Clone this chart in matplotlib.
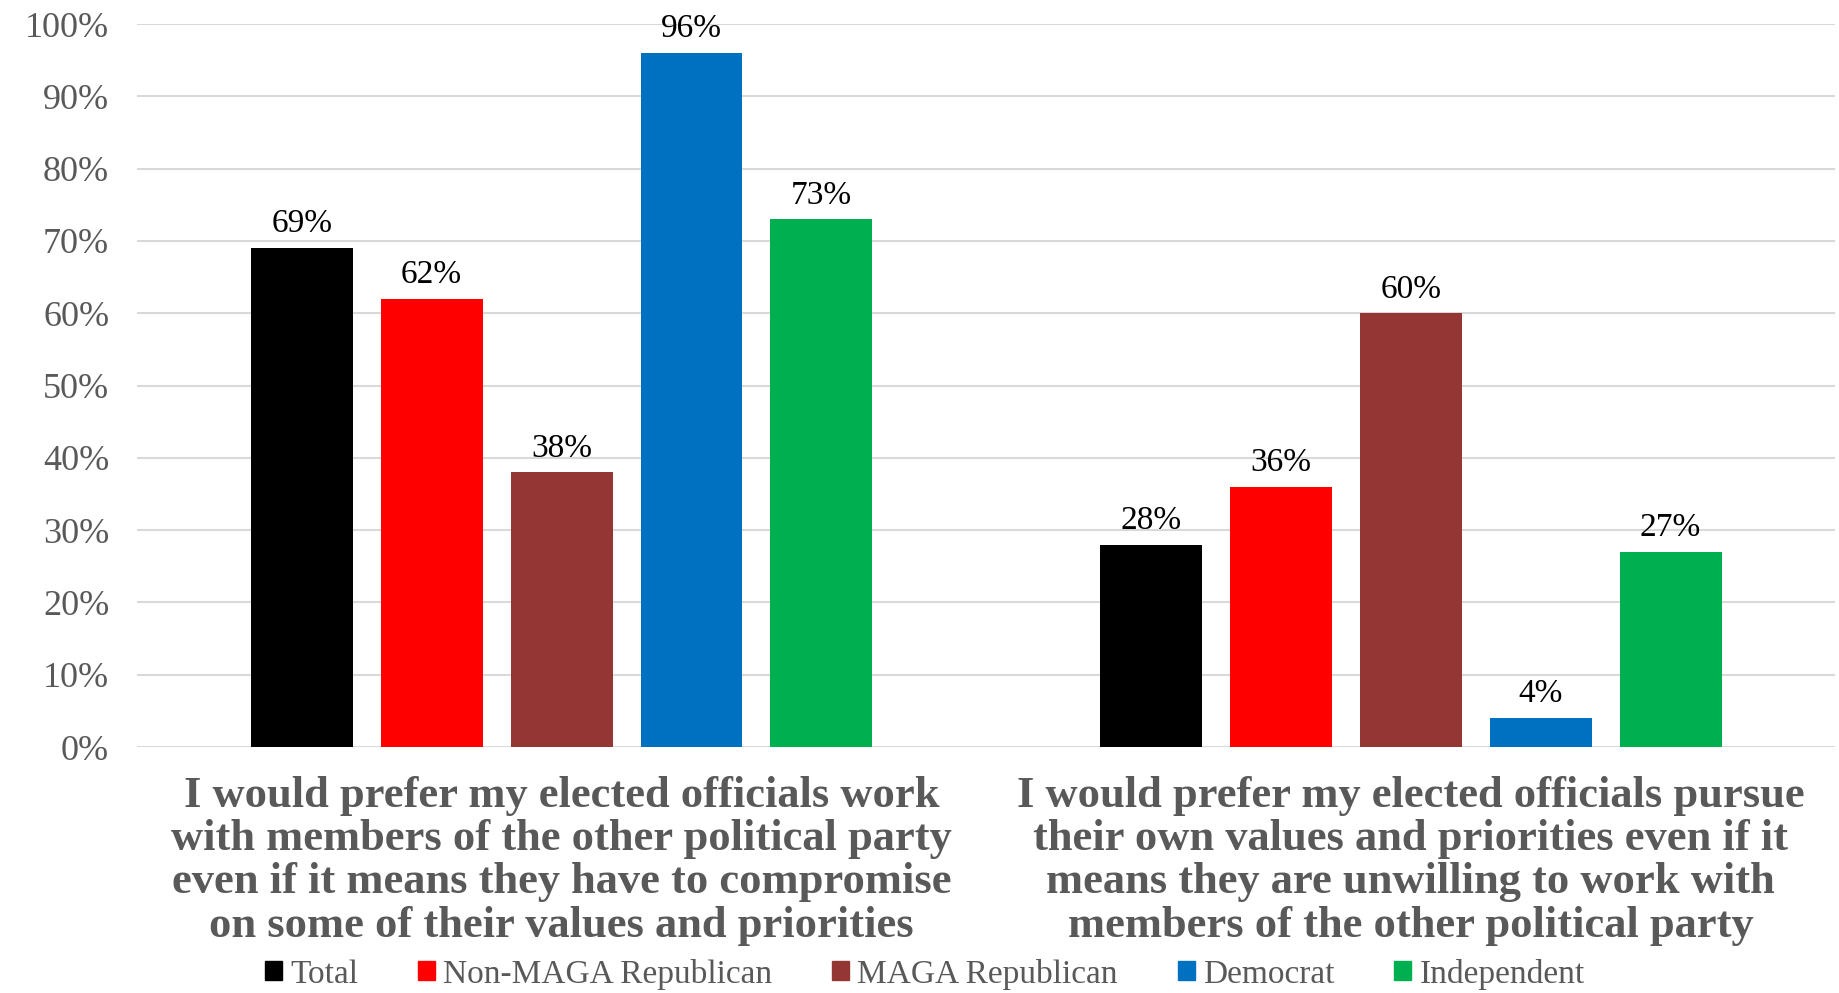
import matplotlib
matplotlib.use("Agg")
import matplotlib.pyplot as plt
import numpy as np

categories = [
    "I would prefer my elected officials work\nwith members of the other political party\neven if it means they have to compromise\non some of their values and priorities",
    "I would prefer my elected officials pursue\ntheir own values and priorities even if it\nmeans they are unwilling to work with\nmembers of the other political party",
]
series_names = ["Total", "Non-MAGA Republican", "MAGA Republican", "Democrat", "Independent"]
series_values = [
    [69, 28],
    [62, 36],
    [38, 60],
    [96, 4],
    [73, 27],
]
colors = ["#000000", "#FF0000", "#943634", "#0070C0", "#00B050"]
yticks = [0, 10, 20, 30, 40, 50, 60, 70, 80, 90, 100]

serif = ["Liberation Serif", "DejaVu Serif"]
plt.rcParams["font.family"] = serif

fig = plt.figure(figsize=(18.39, 9.93), dpi=100)
ax = fig.add_axes([0.0745, 0.2477, 0.9235, 0.7281])

x = np.arange(len(categories))
pitch = 0.153
width = 0.12
for i, (name, vals, c) in enumerate(zip(series_names, series_values, colors)):
    pos = x + (i - 2) * pitch
    bars = ax.bar(pos, vals, width, color=c, label=name, zorder=3)
    for b, v in zip(bars, vals):
        ax.text(b.get_x() + b.get_width() / 2, v + 1.2, f"{v}%", ha="center", va="bottom",
                fontsize=24, color="black")

ax.set_xlim(-0.5, 1.5)
ax.set_ylim(0, 100)
ax.set_yticks(yticks)
ax.set_yticklabels([f"{t}%" for t in yticks], fontsize=26, color="#595959")
ax.yaxis.grid(True, color="#D9D9D9", linewidth=1.5, zorder=0)
ax.set_axisbelow(True)
for s in ax.spines.values():
    s.set_visible(False)
ax.tick_params(axis="y", length=0, pad=20)
ax.tick_params(axis="x", length=0, pad=21)
ax.set_xticks(x)
ax.set_xticklabels(categories, fontsize=32, fontweight="bold", color="#595959", linespacing=1.1)

handles = [plt.Rectangle((0, 0), 1, 1, color=c) for c in colors]
fig.legend(handles, series_names, loc="center", bbox_to_anchor=(0.503, 0.019), ncol=5,
           frameon=False, fontsize=24, labelcolor="#595959", handlelength=0.5, handleheight=0.5,
           handletextpad=0.25, columnspacing=1.8)

fig.savefig("out.png", dpi=100)
